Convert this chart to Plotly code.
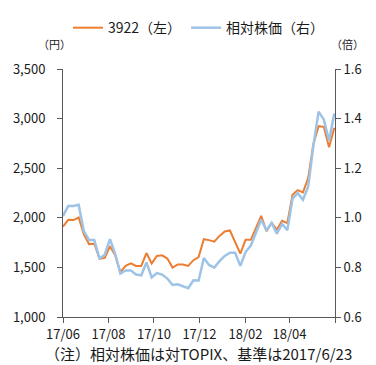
import pandas as pd
import plotly.graph_objects as go

dates = pd.date_range("2017-06-23", periods=53, freq="7D")

price_3922 = [1910, 1980, 1977, 2003, 1833, 1735, 1739, 1589, 1596, 1713,
              1622, 1452, 1515, 1540, 1515, 1515, 1645, 1540, 1615, 1622,
              1589, 1498, 1530, 1530, 1515, 1573, 1605, 1784, 1775, 1759,
              1817, 1862, 1872, 1752, 1638, 1778, 1778, 1898, 2019, 1866,
              1947, 1882, 1970, 1947, 2233, 2279, 2257, 2400, 2745, 2924,
              2917, 2712, 2907]

relative = [1.007, 1.048, 1.048, 1.053, 0.946, 0.910, 0.910, 0.836, 0.851, 0.914,
            0.855, 0.775, 0.788, 0.788, 0.771, 0.768, 0.820, 0.760, 0.777, 0.771,
            0.755, 0.729, 0.732, 0.725, 0.716, 0.748, 0.747, 0.838, 0.810, 0.799,
            0.825, 0.846, 0.859, 0.859, 0.806, 0.862, 0.888, 0.940, 0.992, 0.950,
            0.979, 0.936, 0.975, 0.950, 1.077, 1.099, 1.073, 1.125, 1.291, 1.428,
            1.396, 1.311, 1.421]

tick_dates = ["2017-06-23", "2017-08-23", "2017-10-23", "2017-12-23",
              "2018-02-23", "2018-04-23", "2018-06-23"]
tick_text = ["17/06", "17/08", "17/10", "17/12", "18/02", "18/04", ""]

left_ticks = [1000, 1500, 2000, 2500, 3000, 3500]
left_text = ["1,000", "1,500", "2,000", "2,500", "3,000", "3,500"]
right_ticks = [0.6, 0.8, 1.0, 1.2, 1.4, 1.6]
right_text = ["0.6", "0.8", "1.0", "1.2", "1.4", "1.6"]

FONT = "Noto Sans CJK JP"
AX = "#595959"
TXT = "#1a1a1a"

fig = go.Figure()
fig.add_trace(go.Scatter(x=dates, y=price_3922, mode="lines", name="3922（左）",
                         line=dict(color="#ED7D31", width=2), yaxis="y"))
fig.add_trace(go.Scatter(x=dates, y=relative, mode="lines", name="相対株価（右）",
                         line=dict(color="#9DC3E6", width=2.5), yaxis="y2"))

fig.update_layout(
    width=376, height=365,
    margin=dict(l=63, r=41, t=61, b=48),
    paper_bgcolor="white", plot_bgcolor="white",
    font=dict(family=FONT, size=13, color=TXT),
    showlegend=True,
    legend=dict(orientation="h", x=0.5, xanchor="center", y=1.165, yanchor="middle",
                font=dict(size=14, color=TXT), itemwidth=30, tracegroupgap=0,
                bgcolor="rgba(0,0,0,0)"),
    xaxis=dict(type="date", range=["2017-06-23", "2018-06-23"],
               tickmode="array", tickvals=tick_dates, ticktext=tick_text,
               showgrid=False, zeroline=False, showline=True, linecolor=AX, linewidth=1,
               ticks="outside", ticklen=5, tickcolor=AX, tickfont=dict(size=13, color=TXT)),
    yaxis=dict(range=[1000, 3500], tickmode="array", tickvals=left_ticks, ticktext=left_text,
               showgrid=False, zeroline=False, showline=True, linecolor=AX, linewidth=1,
               ticks="outside", ticklen=5, tickcolor=AX, ticklabelstandoff=9,
               tickfont=dict(size=13, color=TXT)),
    yaxis2=dict(range=[0.6, 1.6], overlaying="y", side="right",
                tickmode="array", tickvals=right_ticks, ticktext=right_text,
                showgrid=False, zeroline=False, showline=True, linecolor=AX, linewidth=1,
                ticks="outside", ticklen=5, tickcolor=AX, tickfont=dict(size=13, color=TXT)),
    annotations=[
        dict(text="（円）", xref="paper", yref="paper", x=-0.03, y=1.10,
             xanchor="center", yanchor="middle", showarrow=False, font=dict(size=11, color=TXT)),
        dict(text="（倍）", xref="paper", yref="paper", x=1.045, y=1.10,
             xanchor="center", yanchor="middle", showarrow=False, font=dict(size=11, color=TXT)),
        dict(text="（注）相対株価は対TOPIX、基準は2017/6/23", xref="paper", yref="paper",
             x=-0.075, y=-0.148, xanchor="left", yanchor="middle", showarrow=False,
             font=dict(size=15, color=TXT)),
    ],
)

fig.write_html("out.html")
